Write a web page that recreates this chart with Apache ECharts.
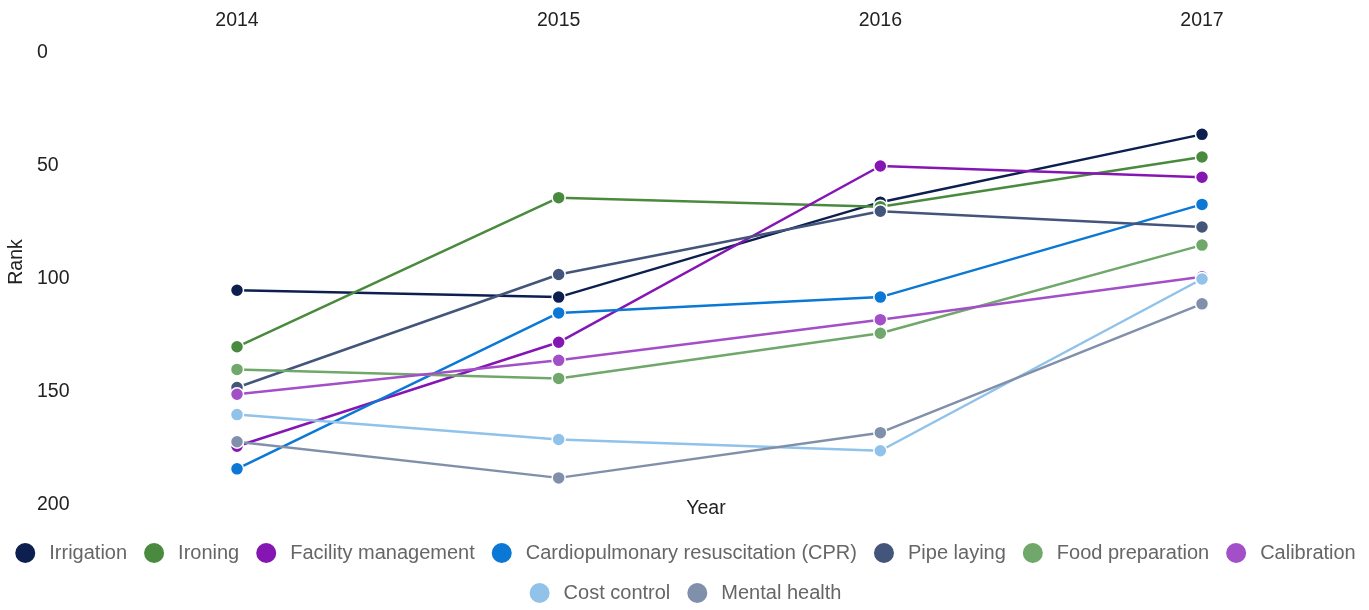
<!DOCTYPE html>
<html>
<head>
<meta charset="utf-8">
<script src="https://cdn.jsdelivr.net/npm/echarts@6/dist/echarts.min.js"></script>
<style>
html,body{margin:0;padding:0;background:#fff;}
#chart{width:1369px;height:610px;}
</style>
</head>
<body>
<div id="chart"></div>
<script>
const years = ['2014', '2015', '2016', '2017'];
const seriesNames = ['Irrigation', 'Ironing', 'Facility management', 'Cardiopulmonary resuscitation (CPR)', 'Pipe laying', 'Food preparation', 'Calibration', 'Cost control', 'Mental health'];
const legendRow1 = ['Irrigation', 'Ironing', 'Facility management', 'Cardiopulmonary resuscitation (CPR)', 'Pipe laying', 'Food preparation', 'Calibration'];
const legendRow2 = ['Cost control', 'Mental health'];
const irrigation = [105, 108, 66, 36];
const ironing = [130, 64, 68, 46];
const facilityManagement = [174, 128, 50, 55];
const cpr = [184, 115, 108, 67];
const pipeLaying = [148, 98, 70, 77];
const foodPreparation = [140, 144, 124, 85];
const calibration = [151, 136, 118, 99];
const costControl = [160, 171, 176, 100];
const mentalHealth = [172, 188, 168, 111];
const yTicks = [0, 50, 100, 150, 200];

const colors = ['#0c1f4f', '#4a8a3e', '#8616b4', '#0a78d4', '#44557b', '#70a76a', '#a24fc8', '#90c2ea', '#8190aa'];
const allData = [irrigation, ironing, facilityManagement, cpr, pipeLaying, foodPreparation, calibration, costControl, mentalHealth];

const chart = echarts.init(document.getElementById('chart'));
const font = 'Liberation Sans, Arial, sans-serif';
const legendBase = {
  left: 'center',
  icon: 'circle',
  itemWidth: 22,
  itemHeight: 24,
  itemGap: 15,
  textStyle: {color: '#666', fontSize: 20, fontFamily: font, padding: [0, 0, 0, 8]}
};
chart.setOption({
  animation: false,
  color: colors,
  grid: {left: 237, right: 167, top: 53, bottom: 105},
  xAxis: {
    type: 'category',
    data: years,
    position: 'top',
    boundaryGap: false,
    axisLine: {show: false},
    axisTick: {show: false},
    splitLine: {show: false},
    axisLabel: {color: '#222', fontSize: 19.5, fontFamily: font, margin: 22}
  },
  yAxis: {
    type: 'value',
    inverse: true,
    min: yTicks[0],
    max: yTicks[yTicks.length - 1],
    interval: 50,
    axisLine: {show: false},
    axisTick: {show: false},
    splitLine: {show: false},
    axisLabel: {color: '#222', fontSize: 19.5, fontFamily: font, margin: 200, align: 'left', padding: [8, 0, 0, 0]}
  },
  legend: [
    Object.assign({}, legendBase, {data: legendRow1, top: 536}),
    Object.assign({}, legendBase, {data: legendRow2, top: 576})
  ],
  graphic: [
    {type: 'text', x: 706, y: 509, style: {text: 'Year', fill: '#222', font: '19.5px ' + font, textAlign: 'center', textVerticalAlign: 'middle'}},
    {type: 'text', x: 17, y: 262, rotation: Math.PI / 2, style: {text: 'Rank', fill: '#222', font: '19.5px ' + font, textAlign: 'center', textVerticalAlign: 'middle'}}
  ],
  series: seriesNames.map((name, i) => ({
    name: name,
    type: 'line',
    data: allData[i],
    symbol: 'circle',
    symbolSize: 13,
    lineStyle: {width: 2.5},
    itemStyle: {borderColor: '#fff', borderWidth: 1.5},
    emphasis: {disabled: true}
  }))
});
</script>
</body>
</html>
